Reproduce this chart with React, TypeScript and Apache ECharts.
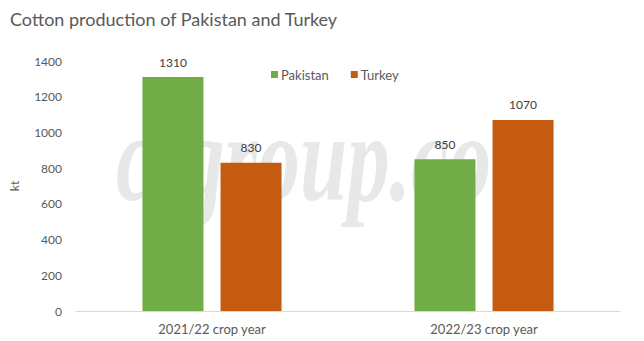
import React, { useEffect, useRef } from "react";
import * as echarts from "echarts";

const categories = ["2021/22 crop year", "2022/23 crop year"];
const pakistan = [1310, 850];
const turkey = [830, 1070];
const yTicks = { min: 0, max: 1400, interval: 200 };

export default function App() {
  const ref = useRef<HTMLDivElement>(null);
  useEffect(() => {
    const chart = echarts.init(ref.current!, null, { renderer: "svg" });
    const font = "Lato, 'Open Sans', sans-serif";
    chart.setOption({
      animation: false,
      backgroundColor: "#ffffff",
      textStyle: { fontFamily: font },
      title: {
        text: "Cotton production of Pakistan and Turkey",
        left: 5,
        top: 5,
        textStyle: { fontFamily: font, fontSize: 18, fontWeight: "normal", color: "#595959" },
      },
      graphic: [
        {
          type: "text",
          z: -10,
          silent: true,
          x: 116,
          y: 158,
          scaleX: 0.68,
          style: {
            x: 0,
            y: 0,
            text: "cfgroup.co",
            fontFamily: "'Liberation Serif', serif",
            fontStyle: "italic",
            fontWeight: "bold",
            fontSize: 125,
            align: "left",
            verticalAlign: "middle",
            fill: "#e8e8e8",
          },
        },
      ],
      legend: {
        data: ["Pakistan", "Turkey"],
        left: 266,
        top: 63,
        itemWidth: 7,
        itemHeight: 7,
        itemGap: 22,
        icon: "rect",
        textStyle: { fontFamily: font, fontSize: 13, color: "#595959", padding: [0, 0, 0, -2] },
      },
      grid: { left: 74, right: 24, top: 61, bottom: 30, containLabel: false },
      xAxis: {
        type: "category",
        data: categories,
        axisLine: { lineStyle: { color: "#d9d9d9" } },
        axisTick: { show: false },
        axisLabel: { fontFamily: font, fontSize: 13, color: "#595959", margin: 11 },
      },
      yAxis: {
        type: "value",
        min: yTicks.min,
        max: yTicks.max,
        interval: yTicks.interval,
        name: "kt",
        nameLocation: "middle",
        nameGap: 56,
        nameTextStyle: { fontFamily: font, fontSize: 12, color: "#595959" },
        splitLine: { show: false },
        axisLine: { show: false },
        axisTick: { show: false },
        axisLabel: {
          fontFamily: font,
          fontSize: 12,
          color: "#595959",
          margin: 14,
          formatter: (v: number) => String(v),
        },
      },
      series: [
        {
          name: "Pakistan",
          type: "bar",
          data: pakistan,
          barWidth: 61,
          barGap: "28%",
          itemStyle: { color: "#70ad47" },
          label: { show: true, position: "top", distance: 9, fontFamily: font, fontSize: 12, color: "#404040" },
          z: 2,
        },
        {
          name: "Turkey",
          type: "bar",
          data: turkey,
          barWidth: 61,
          itemStyle: { color: "#c55a11" },
          label: { show: true, position: "top", distance: 9, fontFamily: font, fontSize: 12, color: "#404040" },
          z: 2,
        },
      ],
    });
    return () => chart.dispose();
  }, []);
  return <div ref={ref} style={{ width: 644, height: 341, position: "absolute", left: 0, top: 0 }} />;
}
